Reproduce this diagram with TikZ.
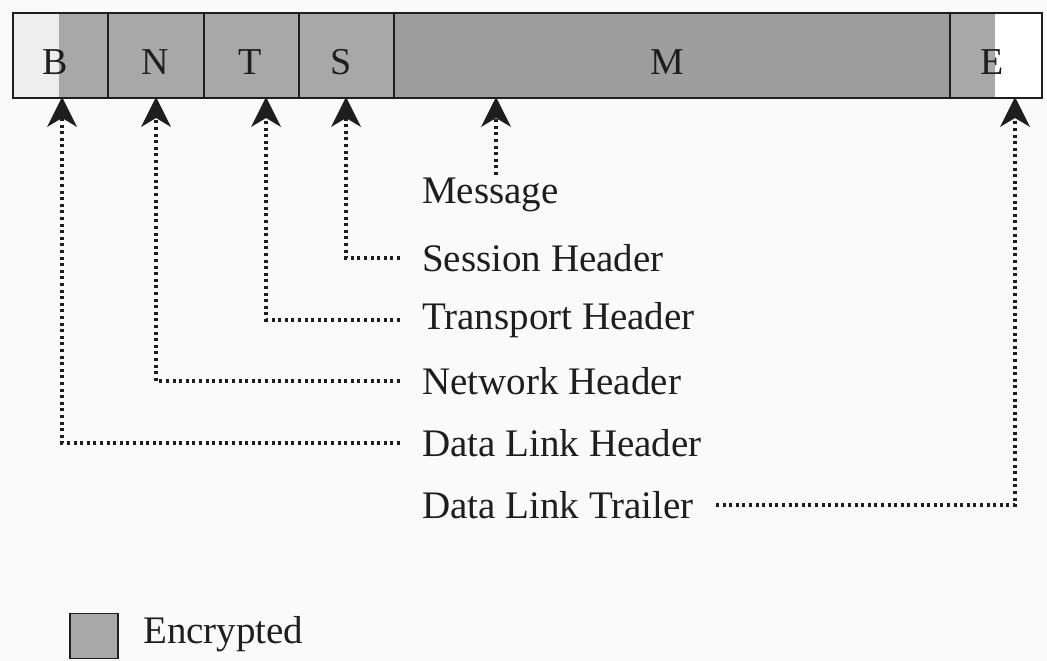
\documentclass[tikz,border=0pt]{standalone}
\usepackage{fontspec}
\setmainfont{Liberation Serif}
\usetikzlibrary{arrows.meta}
\definecolor{enc}{RGB}{168,168,168}
\definecolor{encdark}{RGB}{158,158,158}
\definecolor{plainpart}{RGB}{238,238,238}
\definecolor{paper}{RGB}{250,250,250}
\definecolor{ink}{RGB}{30,30,30}
\begin{document}
\begin{tikzpicture}[x=1pt,y=-1pt,
  font=\fontsize{39}{46}\selectfont, text=ink,
  cell/.style={draw=ink, line width=1.6pt, minimum height=85pt, inner sep=0pt, anchor=north west},
  letter/.style={inner sep=0pt, font=\fontsize{38}{44}\selectfont},
  lbl/.style={anchor=west, inner sep=0pt},
  dotline/.style={draw=ink, line width=3.2pt, dash pattern=on 3pt off 3.6pt},
  tip/.style={-{Stealth[length=30pt,width=30pt,inset=9pt,line width=0pt]}}]
\useasboundingbox (0,0) rectangle (1047,661);
\fill[paper] (0,0) rectangle (1047,661);
% bar fills
\fill[enc] (12,12) rectangle (949,97);
\fill[encdark] (393,12) rectangle (949,97);
\fill[enc] (949,12) rectangle (1041,97);
\fill[plainpart] (12,12) rectangle (59,97);
\fill[white] (995,12) rectangle (1041,97);
% cells
\node[cell, minimum width=95pt] (b) at (12,12) {};
\node[cell, minimum width=96pt] (n) at (107,12) {};
\node[cell, minimum width=95pt] (t) at (203,12) {};
\node[cell, minimum width=95pt] (s) at (298,12) {};
\node[cell, minimum width=556pt] (m) at (393,12) {};
\node[cell, minimum width=92pt] (e) at (949,12) {};
\node[letter] (bl) at (55,62) {B};
\node[letter] (nl) at (155,62) {N};
\node[letter] (tl) at (250,62) {T};
\node[letter] (sl) at (341,62) {S};
\node[letter] (ml) at (667,62) {M};
\node[letter] (el) at (992,62) {E};
% arrow targets on the bar bottom
\coordinate (tb) at (62,97);
\coordinate (tn) at (156,97);
\coordinate (tt) at (266,97);
\coordinate (ts) at (346,97);
\coordinate (tm) at (496,97);
\coordinate (te) at (1015,97);
% labels
\node[lbl] (lm) at (422,195) {Message};
\node[lbl] (ls) at (422,258) {Session Header};
\node[lbl] (lt) at (422,320) {Transport Header};
\node[lbl] (ln) at (422,381) {Network Header};
\node[lbl] (lb) at (422,443) {Data Link Header};
\node[lbl] (le) at (422,505) {Data Link Trailer};
\coordinate (mend) at (496,175);
% connectors
\draw[dotline, tip] (mend) -- (tm);
\draw[dotline, tip] ([xshift=-22pt]ls.west) -| (ts);
\draw[dotline, tip] ([xshift=-22pt]lt.west) -| (tt);
\draw[dotline, tip] ([xshift=-22pt]ln.west) -| (tn);
\draw[dotline, tip] ([xshift=-22pt]lb.west) -| (tb);
\draw[dotline, tip] ([xshift=22pt]le.east) -| (te);
% legend
\node[draw=ink, line width=1.2pt, fill=enc, minimum width=48pt, minimum height=45pt, inner sep=0pt] (key) at (94,636) {};
\node[lbl] (keytext) at (143,634) {Encrypted};
\end{tikzpicture}
\end{document}
